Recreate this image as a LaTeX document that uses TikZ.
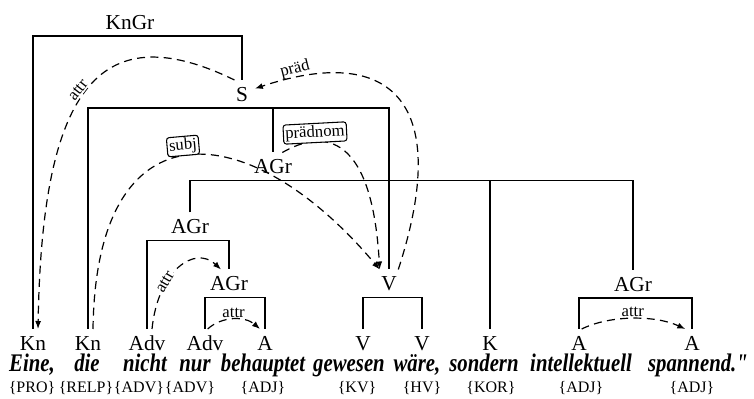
\documentclass[tikz,border=0pt]{standalone}
\usepackage{fontspec}
\setmainfont{Liberation Serif}
\newfontfamily\wordfont[FakeStretch=0.82]{Liberation Serif}
\usetikzlibrary{arrows.meta}
\tikzset{
  >={Latex[length=6pt,width=4.5pt]}, % filled arrow heads
  cat/.style={font=\fontsize{16}{19}\selectfont,inner xsep=1pt,inner ysep=5pt,text height=10.6pt,text depth=0pt},
  word/.style={font=\fontsize{19}{22}\wordfont\bfseries\itshape,anchor=base,inner sep=0pt},
  tag/.style={font=\fontsize{12}{14}\selectfont,anchor=base,inner sep=0pt},
  lbl/.style={font=\fontsize{12.5}{14}\selectfont,inner sep=1pt},
  lbl box/.style={lbl,draw,fill=white,rounded corners=2pt,line width=0.8pt,inner sep=1.5pt},
  branch/.style={line width=1.3pt},
  dep/.style={->,line width=0.9pt,dash pattern=on 6pt off 4pt}
}

\begin{document}
\begin{tikzpicture}[x=0.75pt, y=-0.75pt]
  \useasboundingbox (0,0) rectangle (754,399);

  % leaves: categories
  \node[cat] (kn1)  at (33,343)  {Kn};
  \node[cat] (kn2)  at (88,343)  {Kn};
  \node[cat] (adv1) at (147,343) {Adv};
  \node[cat] (adv2) at (205,343) {Adv};
  \node[cat] (a1)   at (265,343) {A};
  \node[cat] (v1)   at (363,343) {V};
  \node[cat] (v2)   at (422,343) {V};
  \node[cat] (k)    at (490,343) {K};
  \node[cat] (a2)   at (579,343) {A};
  \node[cat] (a3)   at (692,343) {A};

  % words
  \node[word] (w1)  at (32,371.5)  {Eine,};
  \node[word] (w2)  at (87,371.5)  {die};
  \node[word] (w3)  at (145,371.5) {nicht};
  \node[word] (w4)  at (195,371.5) {nur};
  \node[word] (w5)  at (263,371.5) {behauptet};
  \node[word] (w6)  at (349,371.5) {gewesen};
  \node[word] (w7)  at (417,371.5) {wäre,};
  \node[word] (w8)  at (484,371.5) {sondern};
  \node[word] (w9)  at (581,371.5) {intellektuell};
  \node[word] (w10) at (698,371.5) {spannend."};

  % tags
  \node[tag] (t1)  at (32,392.5)  {\{PRO\}};
  \node[tag] (t2)  at (86,392.5)  {\{RELP\}};
  \node[tag] (t3)  at (139,392.5) {\{ADV\}};
  \node[tag] (t4)  at (190,392.5) {\{ADV\}};
  \node[tag] (t5)  at (263,392.5) {\{ADJ\}};
  \node[tag] (t6)  at (357,392.5) {\{KV\}};
  \node[tag] (t7)  at (422,392.5) {\{HV\}};
  \node[tag] (t8)  at (491,392.5) {\{KOR\}};
  \node[tag] (t9)  at (581,392.5) {\{ADJ\}};
  \node[tag] (t10) at (692,392.5) {\{ADJ\}};

  % inner nodes
  \node[cat] (kngr) at (130,22)    {KnGr};
  \node[cat] (s)    at (242,94)    {S};
  \node[cat] (agr1) at (273,166.5) {AGr};
  \node[cat] (agr2) at (190,226.5) {AGr};
  \node[cat] (agr3) at (229,283.5) {AGr};
  \node[cat] (vh)   at (389,283.5) {V};
  \node[cat] (agr4) at (633,284)   {AGr};

  % branches
  \draw[branch] (kn1) |- (kngr.south) -| (s);
  \draw[branch] (kn2) |- (s.south) -| (vh);
  \draw[branch] (s.south -| agr1) -- (agr1);
  \draw[branch] (agr2) |- (agr1.south) -| (agr4);
  \draw[branch] (agr1.south -| k) -- (k);
  \draw[branch] (adv1) |- (agr2.south) -| (agr3);
  \draw[branch] (adv2) |- (agr3.south) -| (a1);
  \draw[branch] (v1) |- (vh.south) -| (v2);
  \draw[branch] (a2) |- (agr4.south) -| (a3);

  % dependencies
  \draw[dep] (s.north west) .. controls (95,12) and (42,96) .. ([xshift=3.75pt]kn1.north);
  \draw[dep] (vh.north east) .. controls (455,95) and (385,45) .. ([xshift=4pt,yshift=4pt]s.east);
  \draw[dep] ([xshift=3.75pt]kn2.north) .. controls (96,100) and (250,115) .. (vh.north west);
  \draw[dep] ([xshift=7pt]agr1.north) .. controls (325,128) and (372,135) .. (vh.north west);
  \draw[dep] ([xshift=3.75pt]adv1.north) .. controls (158,270) and (195,245) .. ([xshift=-6pt]agr3.north);
  \draw[dep] ([xshift=2pt]adv2.north) .. controls (222,316) and (245,316) .. node[lbl,above] (l6) {attr} ([xshift=-3.75pt]a1.north);
  \draw[dep] ([xshift=2pt]a2.north) .. controls (610,315) and (655,315) .. node[lbl,above] (l7) {attr} ([xshift=-5pt]a3.north);

  % labels
  \node[lbl,fill=white,rotate=52] (l1) at (78,90) {attr};
  \node[lbl,rotate=14] (l2) at (295,69) {präd};
  \node[lbl box,rotate=5] (l3) at (183,146) {subj};
  \node[lbl box,rotate=3] (l4) at (315,133) {prädnom};
  \node[lbl,fill=white,rotate=60] (l5) at (165,282) {attr};

\end{tikzpicture}
\end{document}
